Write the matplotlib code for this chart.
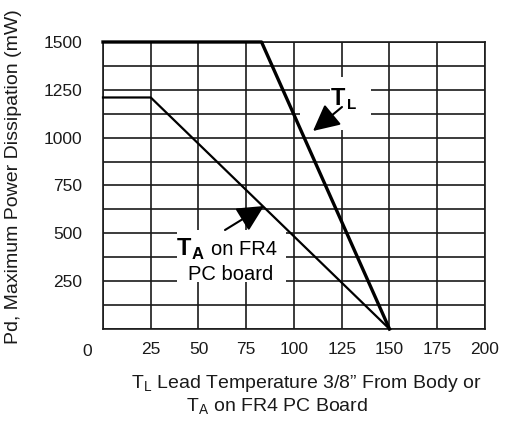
import numpy as np
import matplotlib
matplotlib.use('Agg')
import matplotlib.pyplot as plt
from matplotlib.patches import Rectangle

plt.rcParams['font.family'] = ['Liberation Sans', 'DejaVu Sans']
plt.rcParams['mathtext.fontset'] = 'custom'
plt.rcParams['mathtext.rm'] = 'Liberation Sans'
plt.rcParams['mathtext.bf'] = 'Liberation Sans:bold'

# derating curves (temperature in C, power in mW)
temp_lead = [0, 83, 150]
pd_lead = [1500, 1500, 0]
temp_amb = [0, 25, 150]
pd_amb = [1210, 1210, 0]

xticks = [0, 25, 50, 75, 100, 125, 150, 175, 200]
xtick_labels = ['', '25', '50', '75', '100', '125', '150', '175', '200']
yticks = [0, 125, 250, 375, 500, 625, 750, 875, 1000, 1125, 1250, 1375, 1500]
ytick_labels = ['', '', '250', '', '500', '', '750', '', '1000', '', '1250', '', '1500']

ink = '#1a1a1a'


def main():
    fig = plt.figure(figsize=(5.06, 4.30), dpi=100)
    ax = fig.add_axes([103 / 506, 1 - 329 / 430, 382 / 506, 287 / 430])

    ax.set_xlim(0, 200)
    ax.set_ylim(0, 1500)
    ax.set_xticks(xticks)
    ax.set_xticklabels(xtick_labels)
    ax.set_yticks(yticks)
    ax.set_yticklabels(ytick_labels)
    ax.tick_params(axis='both', length=0, labelsize=12.5, labelcolor=ink)
    ax.tick_params(axis='x', pad=9)
    ax.tick_params(axis='y', pad=15)
    ax.grid(True, color=ink, linewidth=1.2)
    ax.set_axisbelow(True)
    for s in ax.spines.values():
        s.set_color(ink)
        s.set_linewidth(1.2)

    # the lone "0" sits left of the axis corner
    ax.text(-0.042, -0.0767, '0', transform=ax.transAxes, ha='center', va='center',
            fontsize=12.5, color=ink)

    # white patches behind the callouts
    px = lambda p: (p - 103) / 1.91
    py = lambda p: (329 - p) / 0.19133
    for x0, x1, y0, y1 in [(330, 371, 130, 77), (300, 371, 130, 104), (177, 286, 282, 230)]:
        ax.add_patch(Rectangle((px(x0), py(y0)), px(x1) - px(x0), py(y1) - py(y0),
                               facecolor='white', edgecolor='none', zorder=1.5))

    ax.plot(temp_lead, pd_lead, color='black', linewidth=2.4, clip_on=False, zorder=3)
    ax.plot(temp_amb, pd_amb, color='black', linewidth=1.6, clip_on=False, zorder=3)

    arrow = dict(arrowstyle='-|>,head_length=0.9,head_width=0.45', color='black',
                 linewidth=1.5, mutation_scale=18, shrinkA=0, shrinkB=0)
    ax.annotate('', xy=(px(313), py(131)), xytext=(px(342), py(107)), arrowprops=arrow, zorder=4)
    ax.annotate('', xy=(px(264), py(206)), xytext=(px(225), py(230)), arrowprops=arrow, zorder=4)

    # T_L label
    ax.text(px(331), py(105), 'T', fontsize=17, fontweight='bold', va='baseline', zorder=4)
    ax.text(px(347), py(109), 'L', fontsize=11, fontweight='bold', va='baseline', zorder=4)
    # T_A label
    ax.text(px(177), py(255), 'T', fontsize=17, fontweight='bold', va='baseline', zorder=4)
    ax.text(px(192), py(259), 'A', fontsize=12, fontweight='bold', va='baseline', zorder=4)
    ax.text(px(211), py(255), 'on FR4', fontsize=14.5, va='baseline', zorder=4)
    ax.text(px(230.5), py(280), 'PC board', fontsize=14.5, va='baseline', ha='center', zorder=4)

    # axis titles
    fig.text(14 / 506, 1 - 177 / 430, 'Pd, Maximum Power Dissipation (mW)', rotation=90,
             ha='center', va='center', fontsize=14, color=ink)
    fig.text(306 / 506, 1 - 388 / 430, r'T$_\mathrm{L}$ Lead Temperature 3/8\u201d From Body or'.replace('\\u201d', '\u201d'),
             ha='center', va='baseline', fontsize=14, color=ink)
    fig.text(277 / 506, 1 - 412 / 430, r'T$_\mathrm{A}$ on FR4 PC Board',
             ha='center', va='baseline', fontsize=14, color=ink)

    fig.savefig('out.png', dpi=100)


if __name__ == '__main__':
    main()
